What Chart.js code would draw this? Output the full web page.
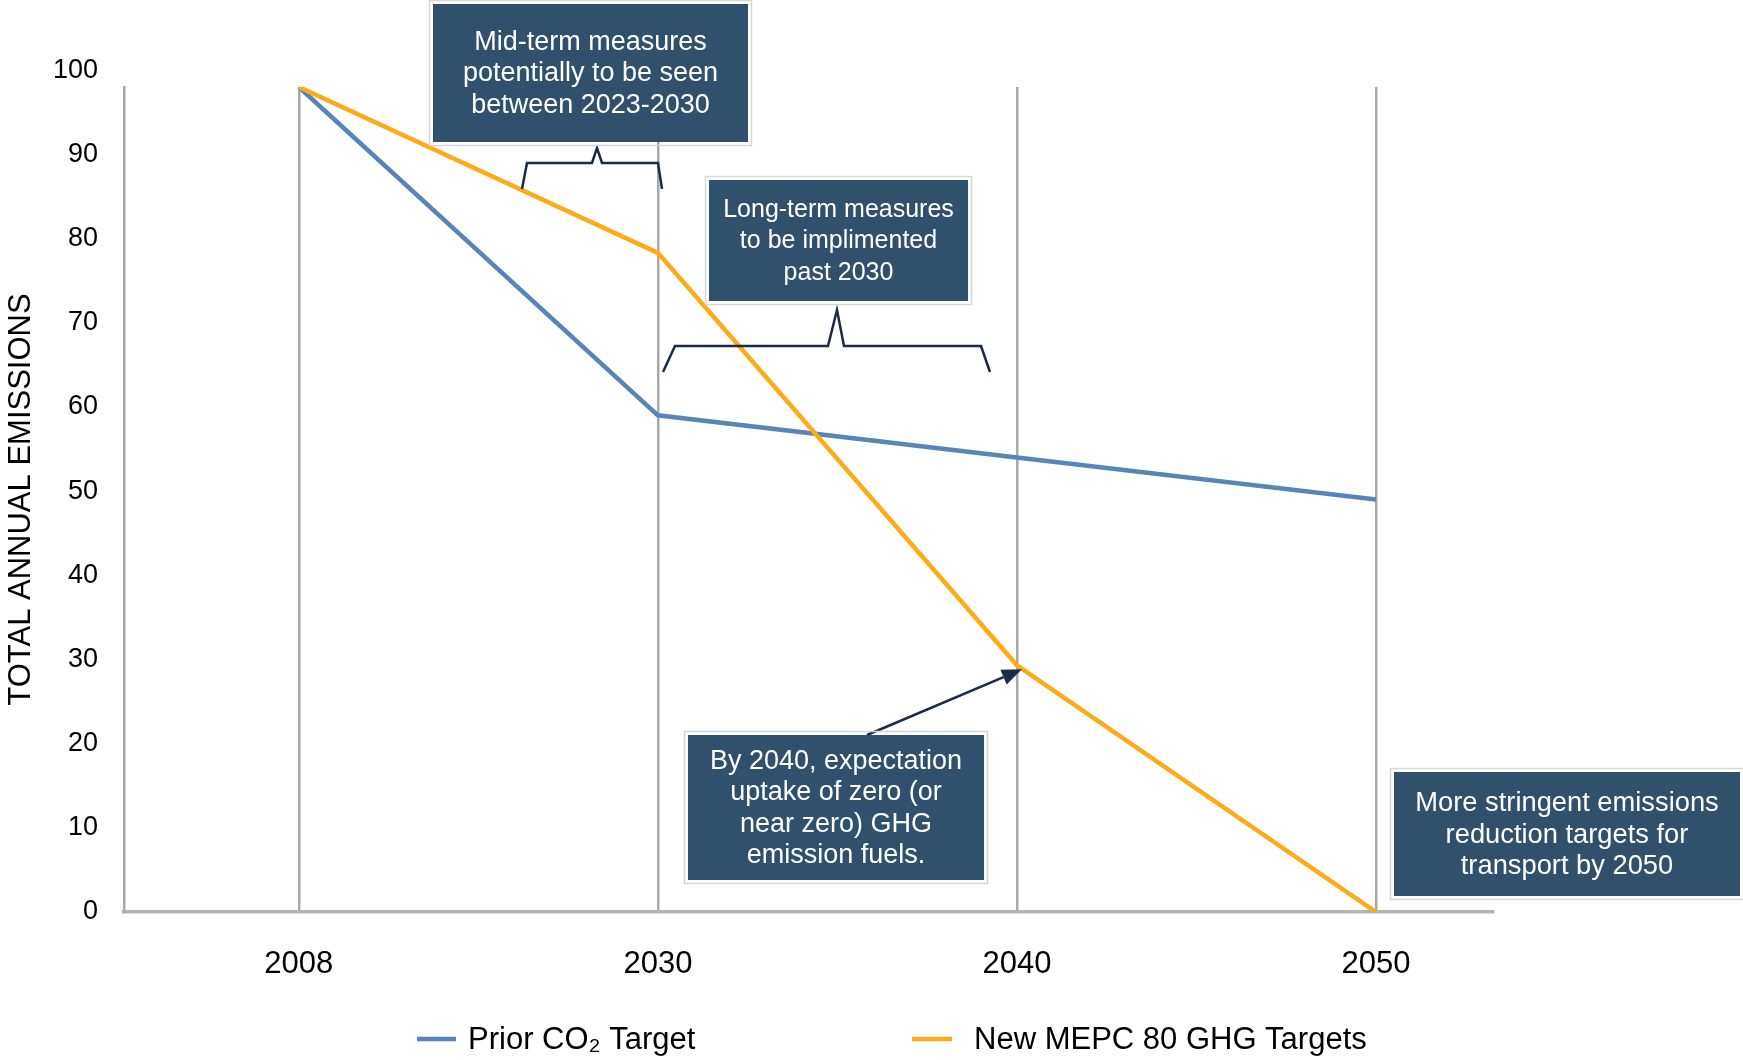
<!DOCTYPE html>
<html>
<head>
<meta charset="utf-8">
<title>Total annual emissions targets</title>
<script src="https://cdn.jsdelivr.net/npm/chart.js@4.4.1/dist/chart.umd.min.js"></script>
<style>
  html, body { margin: 0; padding: 0; background: #ffffff; }
  #wrap { width: 1743px; height: 1060px; }
</style>
</head>
<body>
<div id="wrap"><canvas id="chart" width="1743" height="1060"></canvas></div>
<script>
// ---- data ----
const years = ['2008', '2030', '2040', '2050'];
const priorCO2 = [98, 59, 54, 49];
const mepc80 = [98, 78.3, 29.3, 0];
const yTickValues = [0, 10, 20, 30, 40, 50, 60, 70, 80, 90, 100];
const seriesNames = ['Prior CO\u2082 Target', 'New MEPC 80 GHG Targets'];
const axisTitle = 'TOTAL ANNUAL EMISSIONS';

// ---- styling ----
const BLUE = '#5884b9';
const ORANGE = '#ffaa17';
const GRID = '#a9a9a9';
const NAVY = '#1b2a47';
const BOX = '#30516e';
const FONT = "'Liberation Sans', Arial, Helvetica, sans-serif";

// Callout boxes (pixel layout on the canvas)
const notes = [
  { x: 433, y: 4, w: 315, h: 138, size: 27, lh: 31.5,
    lines: ['Mid-term measures', 'potentially to be seen', 'between 2023-2030'] },
  { x: 709, y: 180, w: 259, h: 121, size: 25, lh: 31.5,
    lines: ['Long-term measures', 'to be implimented', 'past 2030'] },
  { x: 688, y: 735, w: 296, h: 145, size: 27, lh: 31.5,
    lines: ['By 2040, expectation', 'uptake of zero (or', 'near zero) GHG', 'emission fuels.'] },
  { x: 1394, y: 772, w: 346, h: 124, size: 27.3, lh: 31.5,
    lines: ['More stringent emissions', 'reduction targets for', 'transport by 2050'] }
];

// Curly-bracket style connectors under the upper callouts
const brackets = [
  [[522, 189], [527, 163], [592, 163], [597, 148], [602, 163], [658, 163], [662, 189]],
  [[663, 372], [675, 346], [828, 346], [837, 310], [844, 346], [981, 346], [990, 372]]
];
const arrowStart = [867, 735];

const overlay = {
  id: 'overlay',
  beforeDraw(chart) {
    const ctx = chart.ctx;
    ctx.save();
    ctx.fillStyle = '#ffffff';
    ctx.fillRect(0, 0, chart.width, chart.height);
    ctx.restore();
  },
  afterDraw(chart) {
    const ctx = chart.ctx;
    const xs = chart.scales.x, ys = chart.scales.y;
    ctx.save();

    // brackets
    ctx.strokeStyle = NAVY;
    ctx.lineWidth = 2.5;
    ctx.lineJoin = 'miter';
    brackets.forEach(pts => {
      ctx.beginPath();
      pts.forEach((p, i) => i ? ctx.lineTo(p[0], p[1]) : ctx.moveTo(p[0], p[1]));
      ctx.stroke();
    });

    // arrow towards the 2040 point of the new targets
    const tx = xs.getPixelForValue(2) + 5, ty = ys.getPixelForValue(mepc80[2]) + 4;
    const [sx, sy] = arrowStart;
    const ang = Math.atan2(ty - sy, tx - sx);
    const head = 20, half = 8;
    const bx = tx - head * Math.cos(ang), by = ty - head * Math.sin(ang);
    ctx.beginPath();
    ctx.moveTo(sx, sy);
    ctx.lineTo(bx, by);
    ctx.stroke();
    ctx.fillStyle = NAVY;
    ctx.beginPath();
    ctx.moveTo(tx, ty);
    ctx.lineTo(bx + half * Math.sin(ang), by - half * Math.cos(ang));
    ctx.lineTo(bx - half * Math.sin(ang), by + half * Math.cos(ang));
    ctx.closePath();
    ctx.fill();

    // callout boxes
    notes.forEach(n => {
      ctx.strokeStyle = '#d6d6d6';
      ctx.lineWidth = 1.5;
      ctx.strokeRect(n.x - 3.5, n.y - 3.5, n.w + 7, n.h + 7);
      ctx.fillStyle = BOX;
      ctx.fillRect(n.x, n.y, n.w, n.h);
      ctx.fillStyle = '#ffffff';
      ctx.font = n.size + 'px ' + FONT;
      ctx.textAlign = 'center';
      ctx.textBaseline = 'middle';
      const cx = n.x + n.w / 2;
      const cy = n.y + n.h / 2 + 1;
      const y0 = cy - (n.lines.length - 1) * n.lh / 2;
      n.lines.forEach((t, i) => ctx.fillText(t, cx, y0 + i * n.lh));
    });

    // legend
    const ly = 1040;
    const items = [
      { color: BLUE, x0: 417, x1: 456, tx: 468, text: seriesNames[0] },
      { color: ORANGE, x0: 912, x1: 952, tx: 974, text: seriesNames[1] }
    ];
    ctx.font = '31px ' + FONT;
    ctx.textAlign = 'left';
    ctx.textBaseline = 'middle';
    items.forEach(it => {
      ctx.strokeStyle = it.color;
      ctx.lineWidth = 4.5;
      ctx.beginPath();
      ctx.moveTo(it.x0, ly - 1);
      ctx.lineTo(it.x1, ly - 1);
      ctx.stroke();
      ctx.fillStyle = '#000000';
      ctx.fillText(it.text, it.tx, ly);
    });

    ctx.restore();
  }
};

new Chart(document.getElementById('chart'), {
  type: 'line',
  data: {
    datasets: [
      {
        label: seriesNames[0],
        data: priorCO2.map((v, i) => ({ x: i, y: v })),
        borderColor: BLUE,
        borderWidth: 4.5,
        pointRadius: 0,
        tension: 0,
        order: 2
      },
      {
        label: seriesNames[1],
        data: mepc80.map((v, i) => ({ x: i, y: v })),
        borderColor: ORANGE,
        borderWidth: 4.5,
        pointRadius: 0,
        tension: 0,
        order: 1
      }
    ]
  },
  options: {
    responsive: false,
    animation: false,
    layout: { padding: { top: 87, right: 250, bottom: 0, left: 0 } },
    plugins: {
      legend: { display: false },
      tooltip: { enabled: false }
    },
    scales: {
      x: {
        type: 'linear',
        min: -0.487,
        max: 3.326,
        afterBuildTicks: s => { s.ticks = years.map((_, i) => ({ value: i })); },
        afterFit: s => { s.height = 148; },
        ticks: {
          autoSkip: false,
          maxRotation: 0,
          padding: 34,
          color: '#000000',
          font: { family: FONT, size: 31 },
          callback: v => years[v]
        },
        grid: { display: true, color: GRID, lineWidth: 2.5, drawTicks: false },
        border: { display: true, color: '#b4b4b4', width: 3.5 }
      },
      y: {
        min: 0,
        max: Math.max(...priorCO2, ...mepc80),
        afterBuildTicks: s => { s.ticks = yTickValues.map(v => ({ value: v })); },
        afterFit: s => { s.width = 124; },
        ticks: {
          autoSkip: false,
          padding: 26,
          color: '#000000',
          font: { family: FONT, size: 27 }
        },
        grid: { display: false, drawTicks: false },
        border: { display: true, color: GRID, width: 2.5 },
        title: {
          display: true,
          text: axisTitle,
          color: '#000000',
          font: { family: FONT, size: 31 },
          padding: { top: 3, bottom: 0 }
        }
      }
    }
  },
  plugins: [overlay]
});
</script>
</body>
</html>
